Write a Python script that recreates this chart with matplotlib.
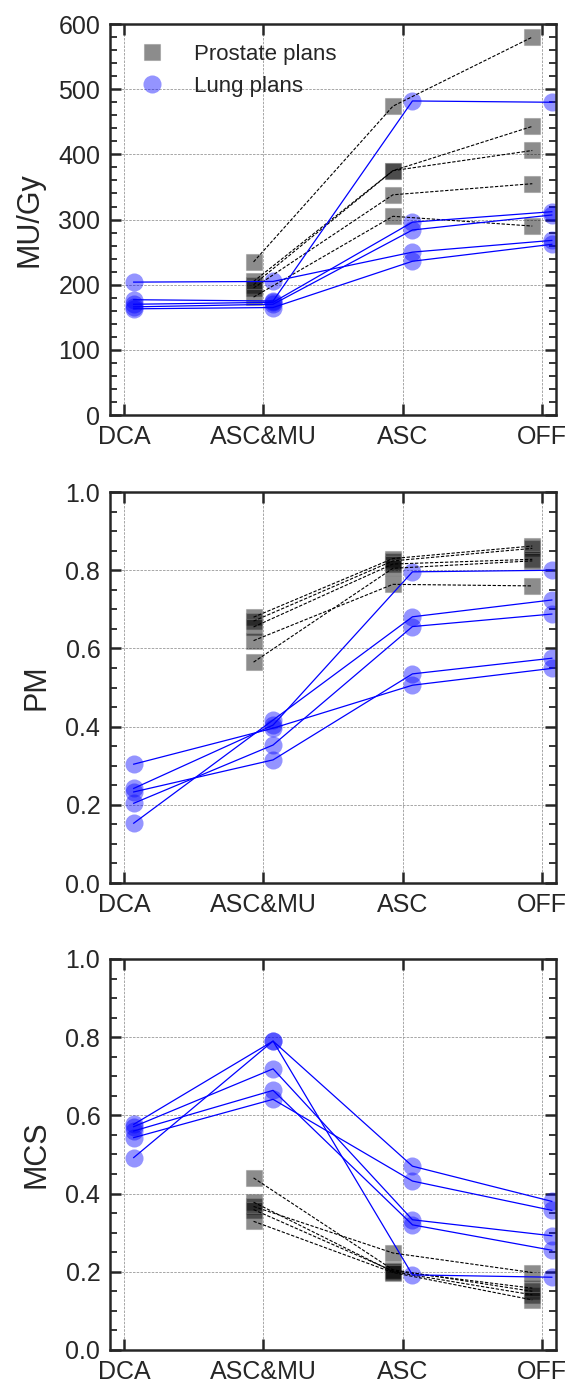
import matplotlib
matplotlib.use('Agg')
import matplotlib.pyplot as plt
import numpy as np
from matplotlib.ticker import MultipleLocator, FormatStrFormatter

plt.rcParams['font.family'] = ['Liberation Sans', 'DejaVu Sans']

categories = ['DCA', 'ASC&MU', 'ASC', 'OFF']

# prostate plans have no DCA value: ASC&MU, ASC, OFF
prostate_mu = [[235, 474, 580], [205, 375, 443], [200, 375, 406], [195, 338, 355], [181, 305, 290]]
prostate_pm = [[0.680, 0.830, 0.862], [0.670, 0.824, 0.856], [0.655, 0.816, 0.828], [0.620, 0.764, 0.760], [0.565, 0.805, 0.824]]
prostate_mcs = [[0.440, 0.205, 0.150], [0.378, 0.200, 0.141], [0.367, 0.248, 0.198], [0.359, 0.202, 0.158], [0.329, 0.198, 0.128]]

# lung plans: DCA, ASC&MU, ASC, OFF
lung_mu = [[204, 205, 250, 268], [177, 175, 482, 480], [170, 173, 296, 312], [166, 170, 284, 307], [163, 165, 236, 262]]
lung_pm = [[0.304, 0.396, 0.506, 0.549], [0.242, 0.404, 0.796, 0.800], [0.153, 0.417, 0.681, 0.724], [0.204, 0.353, 0.656, 0.688], [0.233, 0.315, 0.535, 0.575]]
lung_mcs = [[0.577, 0.790, 0.470, 0.380], [0.492, 0.790, 0.192, 0.186], [0.571, 0.719, 0.333, 0.292], [0.560, 0.664, 0.320, 0.255], [0.543, 0.641, 0.432, 0.357]]

panels = [
    ('MU/Gy', prostate_mu, lung_mu, 600, 100, 20, '%d'),
    ('PM', prostate_pm, lung_pm, 1.0, 0.2, 0.05, '%.1f'),
    ('MCS', prostate_mcs, lung_mcs, 1.0, 0.2, 0.05, '%.1f'),
]
bottoms = [0.6999, 0.3615, 0.0239]
dark = '#262626'
off = 0.07

fig = plt.figure(figsize=(5.67, 13.83), dpi=100)

for i, (ylab, pro, lung, ymax, major, minor, fmt) in enumerate(panels):
    ax = fig.add_axes([0.194, bottoms[i], 0.7866, 0.2827])
    xp = np.arange(1, 4) - off
    xl = np.arange(0, 4) + off
    for k, row in enumerate(pro):
        ax.plot(xp, row, color='black', ls='--', lw=0.8, dashes=(3, 1.5), zorder=3)
        ax.plot(xp, row, ls='none', marker='s', ms=12, color='black', alpha=0.45,
                mec='0.55', mew=0.8, zorder=2, label='Prostate plans' if k == 0 else None)
    for k, row in enumerate(lung):
        ax.plot(xl, row, color='blue', lw=0.9, zorder=3)
        ax.plot(xl, row, ls='none', marker='o', ms=13, color='blue', alpha=0.42,
                mec='none', zorder=2, label='Lung plans' if k == 0 else None)

    ax.set_xlim(-0.1, 3.1)
    ax.set_ylim(0, ymax)
    ax.set_xticks(range(4))
    ax.set_xticklabels(categories)
    ax.yaxis.set_major_locator(MultipleLocator(major))
    ax.yaxis.set_minor_locator(MultipleLocator(minor))
    ax.yaxis.set_major_formatter(FormatStrFormatter(fmt))
    ax.set_ylabel(ylab, fontsize=22, color=dark, labelpad=10)
    ax.tick_params(axis='both', which='major', direction='in', length=8, width=1.8,
                   labelsize=18, colors=dark, pad=7, top=True, right=True)
    ax.tick_params(axis='y', which='minor', direction='in', length=5, width=1.3,
                   colors=dark, left=True, right=True)
    ax.grid(True, which='major', color='0.6', ls=(0, (3, 1.5)), lw=0.6)
    for s in ax.spines.values():
        s.set_linewidth(1.8)
        s.set_color(dark)
    if i == 0:
        ax.legend(loc='upper left', frameon=False, fontsize=16, numpoints=1,
                  handletextpad=0.9, borderaxespad=0.5, labelcolor=dark)

fig.savefig('out.png', dpi=100)
